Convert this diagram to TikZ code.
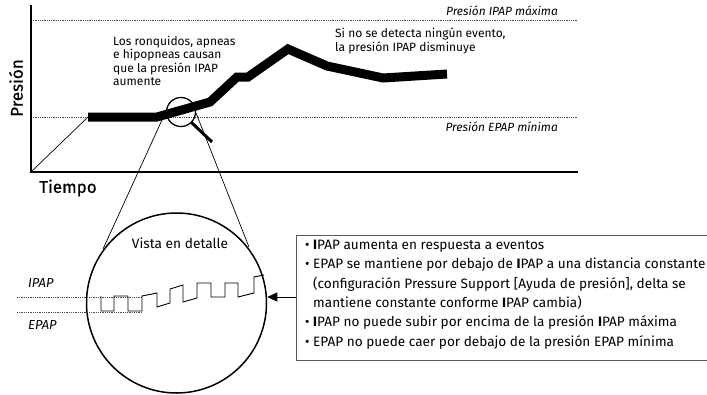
\documentclass[tikz,border=0pt]{standalone}
\usepackage{fontspec}
\setmainfont{Fira Sans}
\newfontfamily\medfont{Fira Sans}[FakeBold=0.6]
\usetikzlibrary{arrows.meta}
\begin{document}
\begin{tikzpicture}[x=1pt,y=-1pt,
  axis/.style={line width=1.4pt},
  refline/.style={line width=0.6pt, dash pattern=on 0.7pt off 1.1pt, black!70},
  trend/.style={line width=9pt, line join=miter, line cap=butt},
  thin/.style={line width=0.7pt},
  lbl/.style={font=\fontsize{11.9}{13}\selectfont\itshape, inner sep=0},
  note/.style={font=\fontsize{12}{13.4}\selectfont, align=left, anchor=north west, inner sep=0},
  big/.style={font=\fontsize{17}{20}\selectfont\medfont, inner sep=0},
  wave/.style={line width=0.9pt, line join=miter}]
\useasboundingbox (0,0) rectangle (707,394);

% reference lines
\coordinate (maxL) at (31,20);
\coordinate (maxR) at (578,20);
\coordinate (minL) at (31,117);
\coordinate (minR) at (578,117);
\draw[refline] (maxL) -- (maxR);
\draw[refline] (minL) -- (minR);
\node[lbl, anchor=east] (maxlbl) at (558,11) {Presión IPAP máxima};
\node[lbl, anchor=east] (minlbl) at (558,127) {Presión EPAP mínima};

% axes
\coordinate (orig) at (31,172);
\coordinate (ytop) at (31,5);
\coordinate (xend) at (578,172);
\draw[axis] (ytop) -- (orig) -- (xend);
\node[big, rotate=90] (ylab) at (16,88) {Presión};
\node[big] (xlab) at (68,188) {Tiempo};

% ramp and trend
\coordinate (t0) at (88,117);
\draw[thin] (orig) -- (t0);
\draw[trend] (t0) -- (157,117) -- (210,102) -- (237,77) -- (248,77) -- (288,49) -- (327,66) -- (383,78) -- (447,74);

% annotations
\node[note] (n1) at (113,36) {Los ronquidos, apneas\\e hipopneas causan\\que la presión IPAP\\aumente};
\node[note, font=\fontsize{12}{14}\selectfont] (n2) at (335,28) {Si no se detecta ningún evento,\\la presión IPAP disminuye};

% magnifier
\node[circle, draw, line width=1.3pt, minimum size=29pt, inner sep=0] (mag) at (181,112) {};
\coordinate (hend) at (212,142);
\draw[line width=3pt] (mag.-45) -- (hend);

% detail circle
\node[circle, draw, line width=1.5pt, minimum size=180pt, inner sep=0] (detail) at (176.5,303) {};
\node[font=\fontsize{13.7}{15}\selectfont, inner sep=0] (vt) at (180,243) {Vista en detalle};
\coordinate (lt) at (162,120);
\coordinate (rt) at (196,113);
\coordinate (lb) at (103,249);
\coordinate (rb) at (249,247);
\draw[thin] (lt) -- (lb);
\draw[thin] (rt) -- (rb);

% IPAP / EPAP detail
\draw[refline] (17,297) -- (142,297);
\draw[refline] (17,312) -- (142,312);
\node[lbl, font=\fontsize{13}{14}\selectfont\itshape, anchor=west] (ipl) at (28,283) {IPAP};
\node[lbl, font=\fontsize{13}{14}\selectfont\itshape, anchor=west] (epl) at (28,325) {EPAP};
\draw[wave] (101,296) -- (101,311) -- (114,311) -- (114,296) -- (128,296) -- (128,311) -- (142,311) -- (142,296)
  -- (157,293) -- (157,307) -- (170,303) -- (170,289) -- (183,285) -- (183,302) -- (197,298) -- (197,283)
  -- (211,283) -- (211,297) -- (225,297) -- (225,283) -- (238,283) -- (238,297) -- (254,293) -- (254,277) -- (264,275);

% info box
\draw[line width=0.9pt, black!65] (708,235) -- (296,235) -- (296,360) -- (708,360);
\coordinate (boxl) at (296,297);
\draw[thin, -{Triangle[length=10pt,width=9pt]}] (boxl) -- (boxl -| detail.east);
\node[anchor=north west, inner sep=0, align=left, font=\fontsize{13.6}{19.3}\selectfont] (info) at (305,240) {%
• \textbf{I}PAP aumenta en respuesta a eventos\\
• EPAP se mantiene por debajo de \textbf{I}PAP a una distancia constante\\
\phantom{• }(configuración Pressure Support [Ayuda de presión], delta se\\
\phantom{• }mantiene constante conforme \textbf{I}PAP cambia)\\
• \textbf{I}PAP no puede subir por encima de la presión \textbf{I}PAP máxima\\
• EPAP no puede caer por debajo de la presión EPAP mínima};
\end{tikzpicture}
\end{document}
